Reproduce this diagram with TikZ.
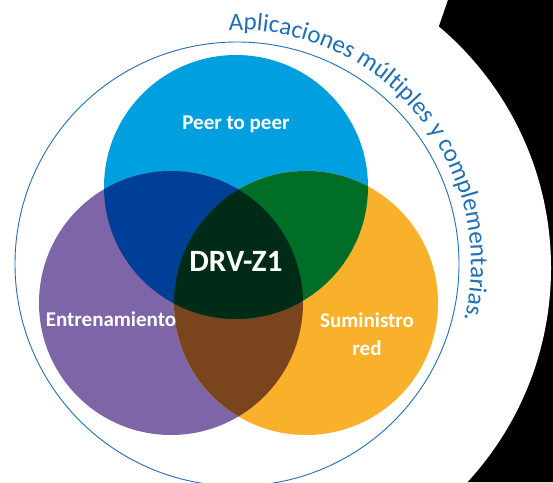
\documentclass[tikz,border=0pt]{standalone}
\usepackage{fontspec}
\setmainfont{Carlito}
\usepackage{tikz}
\usetikzlibrary{decorations.text}

\definecolor{setblue}{RGB}{0,159,224}
\definecolor{setpurple}{RGB}{126,101,168}
\definecolor{setorange}{RGB}{249,176,42}
\definecolor{bluepurple}{RGB}{0,63,151}
\definecolor{blueorange}{RGB}{0,110,38}
\definecolor{purpleorange}{RGB}{122,69,28}
\definecolor{allthree}{RGB}{0,44,23}
\definecolor{ringblue}{RGB}{30,112,184}

\begin{document}
\begin{tikzpicture}[x=1pt,y=1pt,
  set/.style={circle,minimum size=264pt,inner sep=0pt},
  setlabel/.style={text=white,font=\bfseries\fontsize{21}{28}\selectfont,align=center}]
\useasboundingbox (0,0) rectangle (553,482);

% black backdrop and white disk
\fill[black] (448,482) -- (410,372) -- (400,0) -- (553,0) -- (553,482) -- cycle;
\fill[white] (235,214) circle (316);

\node[circle,draw=ringblue,line width=0.9pt,minimum size=444pt,inner sep=0pt] (ring) at (237,218) {};

\node[set,fill=setblue]   (peer)  at (236,295) {};
\node[set,fill=setpurple] (train) at (171,179) {};
\node[set,fill=setorange] (grid)  at (306,179) {};

% overlaps
\begin{scope}
\clip (train.center) circle (132);
\fill[purpleorange] (grid.center) circle (132);
\end{scope}
\begin{scope}
\clip (peer.center) circle (132);
\fill[bluepurple] (train.center) circle (132);
\fill[blueorange] (grid.center) circle (132);
\clip (train.center) circle (132);
\fill[allthree] (grid.center) circle (132);
\end{scope}

\path[decorate,decoration={text along path,text color=ringblue,
  text={|\fontsize{25}{30}\selectfont|Aplicaciones múltiples y complementarias.}}]
  ([shift={(92:234)}]ring.center) arc[start angle=92,end angle=-16,radius=234];

\node[setlabel] (peerlabel)  at (236,358) {Peer to peer};
\node[setlabel,font=\bfseries\fontsize{31}{36}\selectfont] (core) at (236,221) {DRV-Z1};
\node[setlabel] (trainlabel) at (111,163) {Entrenamiento};
\node[setlabel] (gridlabel)  at (367,148) {Suministro\\red};
\end{tikzpicture}
\end{document}
